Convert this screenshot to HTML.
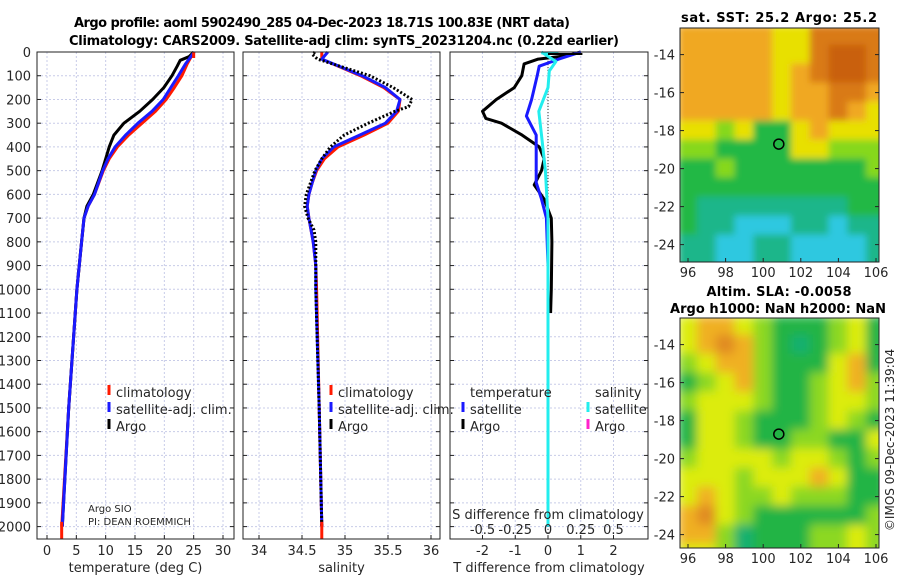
<!DOCTYPE html>
<html><head><meta charset="utf-8"><style>
html,body{margin:0;padding:0;background:#fff;width:900px;height:580px;overflow:hidden}
svg{display:block;font-family:"DejaVu Sans","Liberation Sans",sans-serif}
</style></head><body>
<svg id="fig" width="900" height="580" viewBox="0 0 900 580" xmlns="http://www.w3.org/2000/svg">
<defs>
<filter id="blur2" x="0" y="0" width="1" height="1"><feGaussianBlur stdDeviation="5" edgeMode="duplicate"/></filter>
<filter id="blur1" x="0" y="0" width="1" height="1"><feGaussianBlur stdDeviation="3.5" edgeMode="duplicate"/></filter>
<clipPath id="clipm1"><rect x="680" y="28" width="199" height="234"/></clipPath>
<clipPath id="clipm2"><rect x="680" y="318" width="199" height="230"/></clipPath>
</defs>
<text x="322" y="27" text-anchor="middle" font-weight="bold" font-size="13" textLength="496">Argo profile: aoml 5902490_285 04-Dec-2023 18.71S 100.83E (NRT data)</text>
<text x="344" y="45" text-anchor="middle" font-weight="bold" font-size="13" textLength="550">Climatology: CARS2009. Satellite-adj clim: synTS_20231204.nc (0.22d earlier)</text>
<g id="root"></g>
</svg>
<script>
// ---- depth axis (shared)
const depthTicks = [0,100,200,300,400,500,600,700,800,900,1000,1100,1200,1300,1400,1500,1600,1700,1800,1900,2000];
// ---- temperature panel
const tTicks = [0,5,10,15,20,25,30];
const tDepthClim = [0,50,100,150,200,250,300,350,400,450,500,600,650,700,800,1000,1500,2000];
const tClim = [25.0,23.9,23.0,21.7,20.3,18.5,16.2,13.9,12.0,10.6,9.6,8.1,7.0,6.3,5.9,5.1,3.7,2.5];
const tSat = [25.1,23.6,22.4,21.1,19.8,17.9,15.5,13.4,11.6,10.4,9.5,8.1,7.0,6.3,5.9,5.1,3.7,2.6];
const tDepthArgo = [0,20,35,60,100,150,200,250,300,350,400,450,500,600,650,700,800,1000,1500,2000];
const tArgo = [25.0,24.2,22.7,22.2,21.3,19.9,18.0,15.8,13.1,11.4,10.6,10.0,9.4,7.9,6.8,6.3,5.9,5.1,3.7,2.6];
// ---- salinity panel
const sTicks = [34,34.5,35,35.5,36];
const sDepth = [0,30,100,150,200,250,300,350,400,450,500,550,600,650,700,800,900,1000,1500,2000];
const sClim = [34.73,34.73,35.18,35.45,35.64,35.62,35.50,35.22,34.92,34.76,34.67,34.62,34.58,34.56,34.58,34.63,34.66,34.67,34.70,34.73];
const sSat = [34.80,34.73,35.20,35.47,35.64,35.60,35.47,35.17,34.87,34.73,34.66,34.62,34.58,34.56,34.58,34.63,34.66,34.66,34.70,34.73];
const sDepthArgo = [0,10,30,100,150,200,230,250,300,350,400,450,500,600,650,700,750,800,900,1000,1500,2000];
const sArgo = [34.65,34.62,34.68,35.29,35.56,35.78,35.74,35.58,35.27,34.99,34.83,34.73,34.65,34.55,34.53,34.57,34.64,34.66,34.66,34.66,34.70,34.73];
// ---- difference panel
const dtTicks = [-2,-1,0,1,2];
const dsTickLabels = ["-0.5","-0.25","0","0.25","0.5"];
const dsTicks = [-0.5,-0.25,0,0.25,0.5];
const dDepthArgo = [0,15,30,50,100,150,200,250,280,300,350,400,450,500,560,620,700,800,1000,1100];
const dtArgo = [1.0,0.6,-0.3,-0.73,-0.8,-1.03,-1.58,-2.0,-1.9,-1.42,-0.79,-0.27,-0.12,-0.2,-0.42,-0.12,0.1,0.12,0.1,0.08];
const dDepthSat = [0,30,60,100,200,270,350,450,550,620,700,900,2000];
const dtSat = [1.0,0.33,-0.27,-0.33,-0.5,-0.66,-0.36,-0.36,-0.36,-0.2,-0.05,0,0];
const dDepthS = [0,40,80,150,250,350,500,700,2000];
const dsSat = [-0.05,0.06,0.01,0.0,-0.07,-0.05,-0.02,0.0,0.0];
// ---- maps
const lonTicks = [96,98,100,102,104,106];
const latTicks = [-14,-16,-18,-20,-22,-24];
const argoLon = 100.83, argoLat = -18.71;
const sstGrid = [
"55555446666","55555446776","55555456776","55555455665","55555455654",
"44342245444","33222244333","22322222223","22222222222","21111111122",
"21100011011","11001100001","11001100001"];
const slaGrid = [
"45543222342","45653212342","34553222452","23453223453","34443223443",
"24432223432","24432233224","34444344323","44434445422","45433433322",
"56432222223","55312223343","44312223343"];
const palette = ["#2ec8e0","#1fb68a","#22b845","#86d81c","#e8e000","#f0a820","#d97a14","#c9600e"];
const palette2 = ["#2ec8e0","#18b070","#22b445","#8cd820","#dcec10","#f0b020","#e08a20","#c9600e"];

const NS = "http://www.w3.org/2000/svg";
const root = document.getElementById('root');
function mk(tag, attrs, parent){const e=document.createElementNS(NS,tag);for(const k in attrs)e.setAttribute(k,attrs[k]);(parent||root).appendChild(e);return e;}
function txt(x,y,s,size,anchor,parent){const t=mk('text',{x:x,y:y,'font-size':size||13,'text-anchor':anchor||'start',fill:'#262626'},parent);t.textContent=s;return t;}

const Y0=52, Y1=539, PXM=0.2373;
function yD(d){return Y0+d*PXM;}
const panels=[
 {x0:37,x1:234,fx:v=>47+v*5.867,ticks:tTicks,labels:tTicks.map(String),name:'temperature-panel',title:'temperature (deg C)'},
 {x0:243,x1:440,fx:v=>259+(v-34)*86,ticks:sTicks,labels:sTicks.map(String),name:'salinity-panel',title:'salinity'},
 {x0:450,x1:648,fx:v=>548+v*32.75,ticks:dtTicks,labels:dtTicks.map(String),name:'difference-panel',title:'T difference from climatology'}
];
const fS = v=>548+v*131;

panels.forEach((p,i)=>{
  const g=mk('g',{});
  
  
  depthTicks.forEach(d=>{ if(d>0) mk('line',{x1:p.x0,x2:p.x1,y1:yD(d),y2:yD(d),stroke:'#c8cce8','stroke-width':1,'stroke-dasharray':'2,2'},g);});
  p.ticks.forEach(v=>{const x=p.fx(v); mk('line',{x1:x,x2:x,y1:Y0,y2:Y1,stroke:'#c8cce8','stroke-width':1,'stroke-dasharray':'2,2'},g);
    mk('line',{x1:x,x2:x,y1:Y1,y2:Y1-4,stroke:'#222'},g);});
  depthTicks.forEach(d=>{mk('line',{x1:p.x0,x2:p.x0+4,y1:yD(d),y2:yD(d),stroke:'#222'},g);mk('line',{x1:p.x1,x2:p.x1-4,y1:yD(d),y2:yD(d),stroke:'#222'},g);});
  p.ticks.forEach((v,k)=>{const t=txt(p.fx(v),555,p.labels[k],13,'middle',g);
    
    });
  const tt=txt((p.x0+p.x1)/2,572,p.title,13,'middle',g);
  
  
  p.g=g;
});
depthTicks.forEach(d=>{const t=txt(31,yD(d)+5,String(d),13,'end');
  
  });

function poly(vals,depths,fx,color,w,dash,name,g){
  const pts=vals.map((v,k)=>fx(v).toFixed(1)+','+yD(depths[k]).toFixed(1)).join(' ');
  const e=mk('polyline',{points:pts,fill:'none',stroke:color,'stroke-width':w,'stroke-linejoin':'round'},g);
  if(dash)e.setAttribute('stroke-dasharray',dash);
  
  
  return e;
}
const P=panels;
poly(tClim,tDepthClim,P[0].fx,'#ff1a00',3,null,'temperature-climatology-line',P[0].g);
poly(tArgo,tDepthArgo,P[0].fx,'#000',3,null,'temperature-argo-line',P[0].g);
poly(tSat,tDepthClim,P[0].fx,'#1a1aff',3,null,'temperature-satellite-line',P[0].g);
mk('line',{x1:P[0].fx(2.5),x2:P[0].fx(2.5),y1:yD(1980),y2:Y1,stroke:'#ff1a00','stroke-width':3},P[0].g);
mk('line',{x1:P[0].fx(25),x2:P[0].fx(25),y1:Y0,y2:Y0+6,stroke:'#ff1a00','stroke-width':3},P[0].g);

poly(sClim,sDepth,P[1].fx,'#ff1a00',3,null,'salinity-climatology-line',P[1].g);
poly(sSat,sDepth,P[1].fx,'#1a1aff',3,null,'salinity-satellite-line',P[1].g);
poly(sArgo,sDepthArgo,P[1].fx,'#000',3,'2,2','salinity-argo-line',P[1].g);
mk('line',{x1:P[1].fx(34.73),x2:P[1].fx(34.73),y1:yD(1980),y2:Y1,stroke:'#ff1a00','stroke-width':3},P[1].g);

mk('line',{x1:548,x2:548,y1:Y0,y2:Y1,stroke:'#333','stroke-width':1,'stroke-dasharray':'1,2'},P[2].g);
poly(dtArgo,dDepthArgo,P[2].fx,'#000',3,null,'temperature-diff-argo-line',P[2].g);
poly(dtSat,dDepthSat,P[2].fx,'#1a1aff',3,null,'temperature-diff-satellite-line',P[2].g);
poly(dsSat,dDepthS,fS,'#22eeee',3,null,'salinity-diff-satellite-line',P[2].g);
mk('line',{x1:fS(-0.05),x2:fS(0.08),y1:Y0+1,y2:Y0+1,stroke:'#22eeee','stroke-width':3},P[2].g);
mk('line',{x1:P[2].fx(0),x2:P[2].fx(1.05),y1:Y0+2,y2:Y0+2,stroke:'#000','stroke-width':2},P[2].g);
const sdt=txt(548,519,'S difference from climatology',13,'middle',P[2].g);


dsTicks.forEach((v,k)=>{const t=txt(fS(v),534,dsTickLabels[k],13,'middle',P[2].g);
  
  });

panels.forEach(p=>{mk('rect',{x:p.x0,y:Y0,width:p.x1-p.x0,height:Y1-Y0,fill:'none',stroke:'#222','stroke-width':1},p.g);});

function legItem(x,y,color,label,name,g){
  const lg=mk('g',{},g);
  
  
  if(color) mk('line',{x1:x,x2:x,y1:y-12,y2:y-2,stroke:color,'stroke-width':3},lg);
  txt(x+7,y,label,13,'start',lg);
}
[[P[0].g,109],[P[1].g,331]].forEach(([g,x],k)=>{
  legItem(x,397,'#ff1a00','climatology','legend-climatology',g);
  legItem(x,414,'#1a1aff','satellite-adj. clim.','legend-satellite',g);
  legItem(x,431,'#000','Argo','legend-argo',g);
});
legItem(463,397,null,'temperature','legend-temperature-header',P[2].g);
legItem(463,414,'#1a1aff','satellite','legend-temp-satellite',P[2].g);
legItem(463,431,'#000','Argo','legend-temp-argo',P[2].g);
legItem(588,397,null,'salinity','legend-salinity-header',P[2].g);
legItem(588,414,'#22eeee','satellite','legend-sal-satellite',P[2].g);
legItem(588,431,'#ff22cc','Argo','legend-sal-argo',P[2].g);
const a1=txt(88,512,'Argo SIO',10,'start');  
const a2=txt(88,525,'PI: DEAN ROEMMICH',10,'start');  

function drawMap(grid,pal,top,h,latTop,clip,blur,name){
  const g=mk('g',{});
  
  
  const x0=680,w=199, pxLon=18.8, pxLat=19;
  const lonX=l=>688+(l-96)*pxLon, latY=l=>top+(latTop-l)*pxLat;
  const cg=mk('g',{'clip-path':'url(#'+clip+')'},g);
  const ig=mk('g',{filter:'url(#'+blur+')'},cg);
  const cols=grid[0].length;
  grid.forEach((row,r)=>{for(let c=0;c<cols;c++){
    const lon0=95.5+c, lat0=-12.5-r;
    mk('rect',{x:lonX(lon0)-0.5,y:latY(lat0)-0.5,width:pxLon+1,height:pxLat+1,fill:pal[+row[c]]},ig);
  }});
  mk('rect',{x:x0,y:top,width:w,height:h,fill:'none',stroke:'#222'},g);
  lonTicks.forEach(l=>{const x=lonX(l);mk('line',{x1:x,x2:x,y1:top+h,y2:top+h-4,stroke:'#222'},g);
    const t=txt(x,top+h+15,String(l),13,'middle',g);
    
    });
  latTicks.forEach(l=>{const y=latY(l);mk('line',{x1:x0,x2:x0+4,y1:y,y2:y,stroke:'#222'},g);mk('line',{x1:x0+w,x2:x0+w-4,y1:y,y2:y,stroke:'#222'},g);
    const t=txt(675,y+5,String(l),13,'end',g);
    
    });
  const c=mk('circle',{cx:lonX(argoLon),cy:latY(argoLat),r:5,fill:'none',stroke:'#000','stroke-width':1.5},g);
  
  
  return g;
}
drawMap(sstGrid,palette,28,234,-12.6,'clipm1','blur1','sst-map');
drawMap(slaGrid,palette2,318,230,-12.6,'clipm2','blur2','sla-map');
function boldT(x,y,s,name,len){const t=txt(x,y,s,13,'middle');t.setAttribute('font-weight','bold');t.setAttribute('fill','#000');if(len)t.setAttribute('textLength',len);
  
  }
boldT(779,22,'sat. SST: 25.2 Argo: 25.2','sst-map-title',196);
boldT(779,296,'Altim. SLA: -0.0058','sla-map-title',145);
boldT(778,313,'Argo h1000: NaN h2000: NaN','sla-map-subtitle',216);
const im=txt(0,0,'©IMOS 09-Dec-2023 11:39:04',12,'middle');
im.setAttribute('transform','translate(894,440) rotate(-90)');


</script>
</body></html>
